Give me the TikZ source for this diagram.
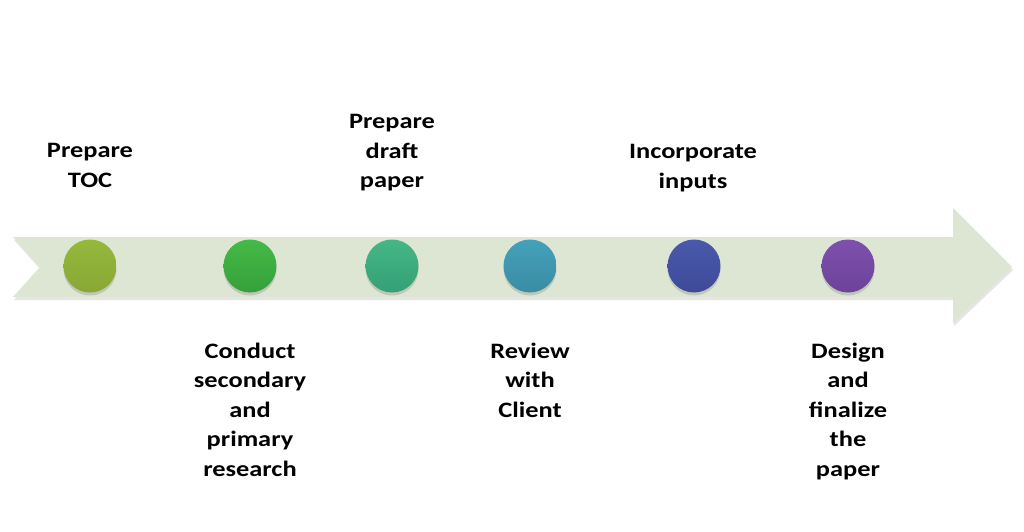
\documentclass[tikz,border=0pt]{standalone}
\usepackage{fontspec}
\setmainfont{Carlito}[FakeStretch=1.2]
\usetikzlibrary{shadows}
\definecolor{arrowfill}{HTML}{DDE6D2}
\definecolor{cA}{HTML}{96B83C}
\definecolor{cAd}{HTML}{88A834}
\definecolor{cB}{HTML}{45BA46}
\definecolor{cBd}{HTML}{34A03A}
\definecolor{cC}{HTML}{45B686}
\definecolor{cCd}{HTML}{35A076}
\definecolor{cD}{HTML}{44A1BA}
\definecolor{cDd}{HTML}{3A8CA4}
\definecolor{cE}{HTML}{4A59AC}
\definecolor{cEd}{HTML}{3E4A98}
\definecolor{cF}{HTML}{7E50AE}
\definecolor{cFd}{HTML}{6C4398}
\tikzset{
  dot/.style={circle, minimum size=53pt, inner sep=0pt,
    drop shadow={opacity=0.3, shadow xshift=0pt, shadow yshift=-3pt}},
  lbl/.style={align=center, inner sep=0pt, anchor=north,
    font=\fontsize{22}{29.5}\selectfont\bfseries},
}
\begin{document}
\begin{tikzpicture}[x=1pt,y=-1pt]
\useasboundingbox (0,0) rectangle (1024,532);
\fill[white] (0,0) rectangle (1024,532);
% arrow
\fill[black, opacity=0.10] (14,240) -- (954,240) -- (954,211) -- (1013,270) -- (954,326) -- (954,300) -- (14,300) -- (41,270) -- cycle;
\fill[arrowfill] (13,237) -- (953,237) -- (953,208) -- (1012,267) -- (953,323) -- (953,297) -- (13,297) -- (40,267) -- cycle;
% dots
\node[dot, top color=cA, bottom color=cAd] (d1) at (90,266) {};
\node[dot, top color=cB, bottom color=cBd] (d2) at (250,266) {};
\node[dot, top color=cC, bottom color=cCd] (d3) at (392,266) {};
\node[dot, top color=cD, bottom color=cDd] (d4) at (530,266) {};
\node[dot, top color=cE, bottom color=cEd] (d5) at (694,266) {};
\node[dot, top color=cF, bottom color=cFd] (d6) at (848,266) {};
% labels
\node[lbl] (t1) at (90,143.5) {Prepare\\TOC};
\node[lbl] (t2) at (250,342.5) {Conduct\\secondary\\and\\primary\\research};
\node[lbl] (t3) at (392,114.5) {Prepare\\draft\\paper};
\node[lbl] (t4) at (530,342.5) {Review\\with\\Client};
\node[lbl] (t5) at (693,144.5) {Incorporate\\inputs};
\node[lbl] (t6) at (848,342.5) {Design\\and\\finalize\\the\\paper};
\end{tikzpicture}
\end{document}
